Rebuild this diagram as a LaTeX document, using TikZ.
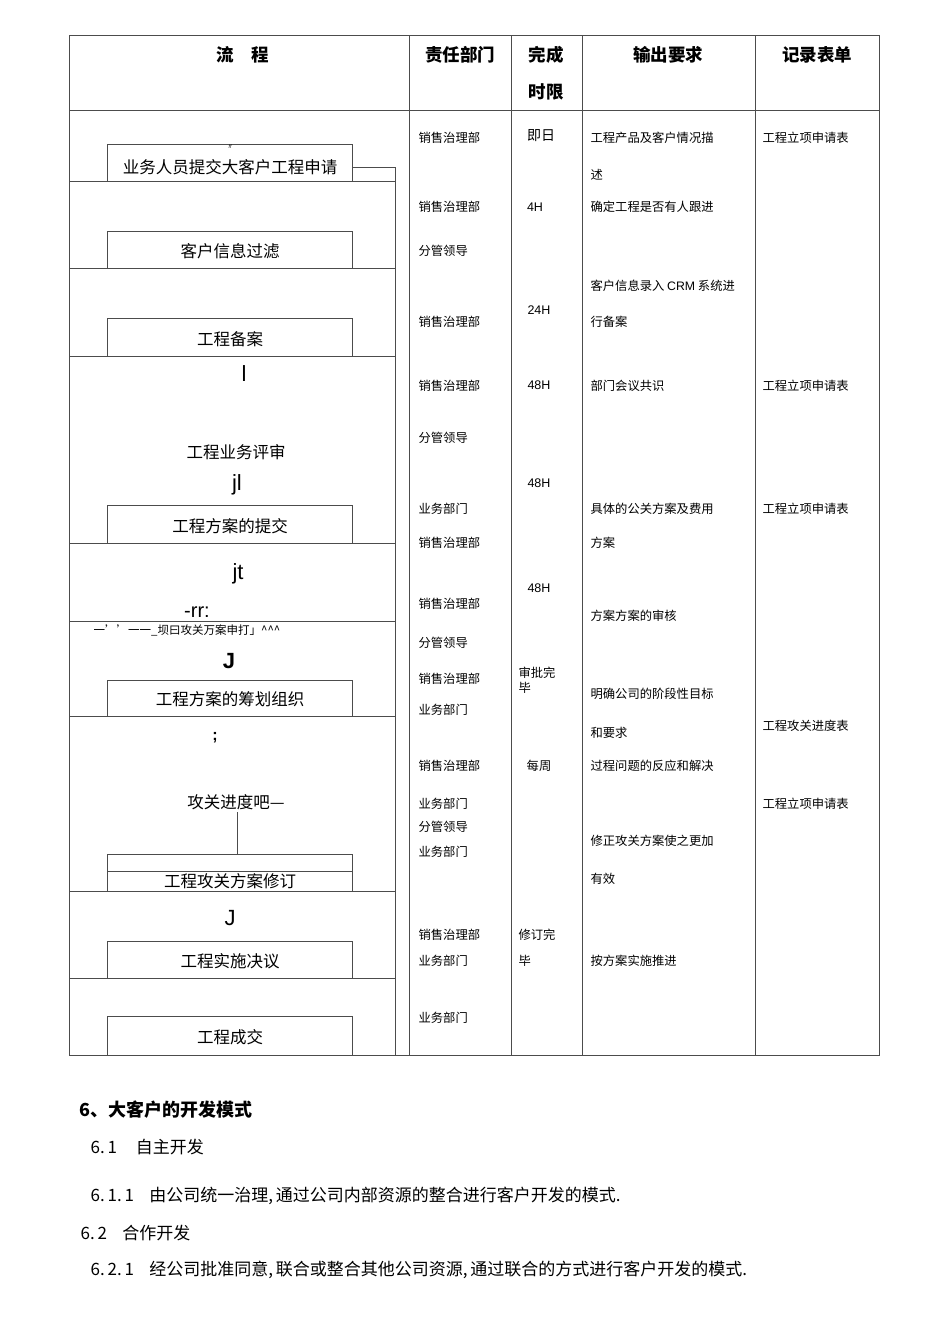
\documentclass[tikz,border=0pt]{standalone}
\usepackage{fontspec}
\setmainfont{Liberation Sans}
\newfontfamily\cjk{Noto Sans CJK SC}
\begin{document}
\begin{tikzpicture}[x=1pt,y=-1pt,line width=0.6pt,
  hd/.style={font=\cjk\bfseries\fontsize{17.5}{19}\selectfont},
  bx/.style={draw=black!70},
  bt/.style={font=\cjk\fontsize{16.5}{18}\selectfont},
  sm/.style={font=\cjk\fontsize{12.3}{14}\selectfont,anchor=west},
  tm/.style={font=\fontsize{12.5}{14}\selectfont},
  para/.style={font=\cjk\fontsize{17}{19}\selectfont,anchor=west}]
\useasboundingbox (0,0) rectangle (950,1344);
% table frame
\draw[black!70] (69,35) rectangle (879,1055);
\draw[black!70] (69,110) -- (879,110);
\foreach \x in {409,511,582,755} \draw[black!70] (\x,35) -- (\x,1055);
\draw[black!70] (395,168) -- (395,1055);
\foreach \y in {181,268,356,543,621,716,891,978} \draw[black!70] (69,\y) -- (395,\y);
% headers
\node[hd] (h1) at (243,55) {流\hspace{1em}程};
\node[hd] (h2) at (460,55) {责任部门};
\node[hd] (h3) at (546,55) {完成};
\node[hd] (h3b) at (546,92) {时限};
\node[hd] (h4) at (668,55) {输出要求};
\node[hd] (h5) at (817,55) {记录表单};
% boxes
\draw[bx] (107,181) |- (352,144) -- (352,181);
\node[bt] (b1) at (230,167) {业务人员提交大客户工程申请};
\draw[black!70] (352,167) -- (395,167) -- (395,181);
\node[font=\tiny\itshape] (t0) at (230,147) {ff};
\draw[bx] (107,268) |- (352,231) -- (352,268);
\node[bt] (b2) at (230,251) {客户信息过滤};
\draw[bx] (107,356) |- (352,318) -- (352,356);
\node[bt] (b3) at (230,339) {工程备案};
\node[font=\fontsize{22}{24}\selectfont\rmfamily] (g1) at (244,374) {l};
\node[bt] (b4) at (236,452) {工程业务评审};
\node[font=\fontsize{22}{24}\selectfont\rmfamily] (g2) at (237,485) {jl};
\draw[bx] (107,543) |- (352,505) -- (352,543);
\node[bt] (b5) at (230,526) {工程方案的提交};
\node[font=\fontsize{22}{24}\selectfont\rmfamily] (g3) at (238,574) {jt};
\node[font=\fontsize{20}{22}\selectfont\rmfamily] (g4) at (197,612) {-rr:};
\node[font=\cjk\fontsize{11.5}{12}\selectfont] (g5) at (187,630) {一’’一一\_坝曰攻关万案申打」\textasciicircum\textasciicircum\textasciicircum};
\node[font=\fontsize{22}{24}\selectfont\bfseries] (g6) at (229,661) {J};
\draw[bx] (107,716) |- (352,680) -- (352,716);
\node[bt] (b6) at (230,699) {工程方案的筹划组织};
\node[font=\fontsize{16}{18}\selectfont\bfseries] (g7) at (215,738) {;};
\node[bt] (b7a) at (236,802) {攻关进度吧—};
\draw[black!70] (237,812) -- (237,854);
\draw[bx] (107,891) |- (352,854) -- (352,891);
\draw[bx] (107,871) -- (352,871);
\node[bt] (b7) at (230,881) {工程攻关方案修订};
\node[font=\fontsize{22}{24}\selectfont\rmfamily] (g8) at (230,918) {J};
\draw[bx] (107,978) |- (352,941) -- (352,978);
\node[bt] (b8) at (230,961) {工程实施决议};
\draw[bx] (107,1055) |- (352,1016) -- (352,1055);
\node[bt] (b9) at (230,1037) {工程成交};
% dept column
\foreach \y/\t [count=\i] in {138/销售治理部,207/销售治理部,251/分管领导,322/销售治理部,386/销售治理部,438/分管领导,509/业务部门,543/销售治理部,604/销售治理部,643/分管领导,679/销售治理部,710/业务部门,766/销售治理部,804/业务部门,827/分管领导,852/业务部门,935/销售治理部,961/业务部门,1018/业务部门}
  \node[sm] (d\i) at (415,\y) {\t};
% time column
\node[font=\cjk\fontsize{14}{15}\selectfont] (tt1) at (541,136) {即日};
\node[tm] (tt2) at (535,207) {4H};
\node[tm] (tt3) at (539,310) {24H};
\node[tm] (tt4) at (539,385) {48H};
\node[tm] (tt5) at (539,483) {48H};
\node[tm] (tt6) at (539,588) {48H};
\node[sm] (tt7) at (515,673) {审批完};
\node[sm] (tt7b) at (515,688) {毕};
\node[font=\cjk\fontsize{12.3}{14}\selectfont] (tt8) at (539,766) {每周};
\node[sm] (tt9) at (515,935) {修订完};
\node[sm] (tt9b) at (515,961) {毕};
% output column
\foreach \y/\t [count=\i] in {138/工程产品及客户情况描,175/述,207/确定工程是否有人跟进,286/客户信息录入 \textrm{CRM} 系统进,322/行备案,386/部门会议共识,509/具体的公关方案及费用,543/方案,616/方案方案的审核,694/明确公司的阶段性目标,733/和要求,766/过程问题的反应和解决,841/修正攻关方案使之更加,879/有效,961/按方案实施推进}
  \node[sm] (o\i) at (587,\y) {\t};
% record column
\foreach \y/\t [count=\i] in {138/工程立项申请表,386/工程立项申请表,509/工程立项申请表,726/工程攻关进度表,804/工程立项申请表}
  \node[sm] (r\i) at (759,\y) {\t};
% paragraphs
\node[para,font=\cjk\bfseries\fontsize{18}{20}\selectfont] (p1) at (76,1110) {6、大客户的开发模式};
\node[para] (p2) at (87,1147) {6.\,1\hspace{1.1em}自主开发};
\node[para] (p3) at (87,1196) {6.\,1.\,1\hspace{0.9em}由公司统一治理,\,通过公司内部资源的整合进行客户开发的模式.};
\node[para] (p4) at (77,1233) {6.\,2\hspace{0.9em}合作开发};
\node[para] (p5) at (87,1270) {6.\,2.\,1\hspace{0.9em}经公司批准同意,\,联合或整合其他公司资源,\,通过联合的方式进行客户开发的模式.};
\end{tikzpicture}
\end{document}
